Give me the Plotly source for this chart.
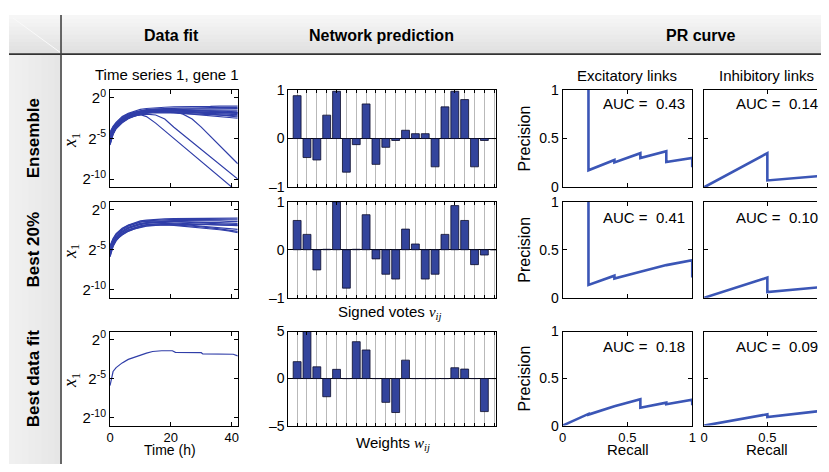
import plotly.graph_objects as go
import math

# The page draws the figure into an area inset by 8 px (body margin); map
# reference pixel positions onto that area.
OX, OY = 8.0, 8.0
FW, FH = 813.0, 456.0

# ---------------- data ----------------
TIME = [0, 1, 2, 3, 4, 6, 8, 10, 12, 15, 18, 21, 24, 27, 30, 33, 36, 39, 42]

# log2(x1) trajectories, ensemble
ENSEMBLE_LOG2 = [
    [-4.2, -3.5, -3.0, -2.6, -2.3, -1.9, -1.6, -1.4, -1.3, -1.2, -1.15, -1.1, -1.1, -1.1, -1.05, -1.05, -1.0, -1.0, -1.0],
    [-4.5, -3.7, -3.2, -2.8, -2.5, -2.1, -1.8, -1.6, -1.45, -1.35, -1.3, -1.3, -1.25, -1.25, -1.2, -1.2, -1.2, -1.2, -1.2],
    [-4.8, -3.9, -3.3, -2.9, -2.6, -2.2, -1.9, -1.7, -1.55, -1.45, -1.4, -1.4, -1.4, -1.35, -1.35, -1.35, -1.35, -1.3, -1.3],
    [-5.0, -4.0, -3.4, -3.0, -2.7, -2.3, -2.0, -1.8, -1.65, -1.55, -1.5, -1.5, -1.5, -1.5, -1.5, -1.5, -1.5, -1.5, -1.5],
    [-5.2, -4.2, -3.5, -3.1, -2.8, -2.35, -2.05, -1.85, -1.7, -1.6, -1.55, -1.55, -1.55, -1.6, -1.6, -1.6, -1.65, -1.65, -1.7],
    [-5.4, -4.3, -3.6, -3.2, -2.9, -2.4, -2.1, -1.9, -1.75, -1.65, -1.6, -1.6, -1.65, -1.7, -1.7, -1.75, -1.8, -1.8, -1.85],
    [-5.6, -4.4, -3.7, -3.3, -3.0, -2.5, -2.2, -2.0, -1.8, -1.7, -1.7, -1.7, -1.75, -1.8, -1.85, -1.9, -1.95, -2.0, -2.05],
    [-5.8, -4.5, -3.8, -3.4, -3.05, -2.55, -2.25, -2.05, -1.9, -1.8, -1.8, -1.85, -1.9, -1.95, -2.0, -2.05, -2.1, -2.15, -2.2],
    [-4.4, -3.6, -3.1, -2.7, -2.4, -2.0, -1.75, -1.6, -1.5, -1.45, -1.4, -1.45, -1.5, -1.55, -1.6, -1.65, -1.7, -1.75, -1.8],
    [-4.9, -3.9, -3.3, -2.95, -2.65, -2.25, -1.95, -1.75, -1.6, -1.5, -1.5, -1.55, -1.65, -1.75, -1.85, -1.95, -2.05, -2.2, -2.35],
    [-5.1, -4.1, -3.45, -3.05, -2.75, -2.3, -2.0, -1.8, -1.7, -1.65, -1.7, -1.8, -1.9, -2.0, -2.1, -2.2, -2.3, -2.4, -2.5],
    [-5.3, -4.2, -3.55, -3.15, -2.85, -2.4, -2.1, -1.9, -1.75, -1.7, -1.7, -1.75, -1.75, -1.8, -1.8, -1.8, -1.85, -1.85, -1.9],
    [-5.5, -4.3, -3.6, -3.2, -2.9, -2.45, -2.15, -2.05, -2.3, -3.1, -4.05, -5.0, -5.95, -6.9, -7.85, -8.8, -9.75, -10.7, -11.6],
    [-5.7, -4.4, -3.7, -3.3, -3.0, -2.5, -2.2, -2.05, -2.0, -2.1, -2.6, -3.6, -4.5, -5.4, -6.3, -7.25, -8.2, -9.1, -10.0],
    [-4.7, -3.8, -3.25, -2.85, -2.55, -2.15, -1.85, -1.7, -1.6, -1.55, -1.6, -1.7, -2.0, -2.6, -3.6, -4.7, -5.8, -6.9, -8.1],
]

# log2(x1) trajectories, best 20%
BEST20_LOG2 = [
    [-4.5, -3.6, -3.0, -2.6, -2.3, -1.9, -1.6, -1.4, -1.3, -1.2, -1.15, -1.1, -1.1, -1.05, -1.05, -1.05, -1.05, -1.05, -1.05],
    [-4.8, -3.8, -3.2, -2.8, -2.5, -2.05, -1.75, -1.55, -1.45, -1.4, -1.35, -1.35, -1.35, -1.35, -1.4, -1.4, -1.4, -1.45, -1.45],
    [-5.0, -4.0, -3.35, -2.95, -2.65, -2.2, -1.9, -1.7, -1.6, -1.5, -1.45, -1.45, -1.5, -1.5, -1.55, -1.6, -1.6, -1.65, -1.7],
    [-5.3, -4.2, -3.5, -3.1, -2.8, -2.35, -2.05, -1.85, -1.7, -1.6, -1.6, -1.65, -1.7, -1.75, -1.8, -1.85, -1.9, -1.95, -2.0],
    [-5.5, -4.35, -3.65, -3.25, -2.95, -2.5, -2.2, -2.0, -1.85, -1.75, -1.7, -1.75, -1.85, -1.95, -2.05, -2.15, -2.25, -2.35, -2.45],
    [-5.8, -4.5, -3.8, -3.4, -3.1, -2.65, -2.35, -2.15, -2.0, -1.9, -1.85, -1.9, -1.95, -2.05, -2.15, -2.25, -2.4, -2.55, -2.7],
    [-4.6, -3.7, -3.1, -2.7, -2.4, -1.95, -1.7, -1.5, -1.4, -1.3, -1.25, -1.2, -1.2, -1.2, -1.2, -1.2, -1.2, -1.25, -1.25],
    [-5.2, -4.1, -3.45, -3.05, -2.75, -2.3, -2.0, -1.8, -1.65, -1.55, -1.5, -1.5, -1.55, -1.6, -1.65, -1.7, -1.75, -1.8, -1.85],
    [-5.6, -4.4, -3.7, -3.3, -3.0, -2.55, -2.25, -2.05, -1.9, -1.8, -1.8, -1.8, -1.8, -1.85, -1.85, -1.85, -1.9, -1.9, -1.95],
    [-5.9, -4.6, -3.9, -3.45, -3.15, -2.7, -2.4, -2.2, -2.05, -1.95, -1.9, -1.95, -2.05, -2.15, -2.25, -2.4, -2.5, -2.65, -2.85],
]

# best data fit
BESTFIT_TIME = [0, 1, 2, 3, 4, 6, 8, 10, 12, 14, 17, 20.5, 21.5, 30, 30.5, 40.5, 42]
BESTFIT_LOG2 = [-5.9, -4.1, -3.6, -3.25, -3.0, -2.55, -2.25, -1.95, -1.75, -1.55, -1.45, -1.45, -1.65, -1.7, -1.85, -1.9, -2.1]

LINK_INDEX = list(range(1, 22))
VOTES_ENSEMBLE = [0.88, -0.39, -0.44, 0.48, 0.97, -0.69, -0.125, 0.71, -0.53, -0.18, -0.04,
                  0.17, 0.10, 0.10, -0.58, 0.65, 0.97, 0.80, -0.58, -0.04, 0.0]
VOTES_BEST20 = [0.61, 0.32, -0.42, 0.01, 1.0, -0.80, 0.01, 0.73, -0.19, -0.51, -0.61,
                0.43, 0.12, -0.61, -0.51, 0.32, 0.92, 0.61, -0.31, -0.11, 0.0]
WEIGHTS_BESTFIT = [1.8, 5.0, 1.25, -1.93, 0.98, 0.0, 3.92, 3.04, 0.0, -2.53, -3.61,
                   1.96, 0.0, 0.0, 0.0, 0.0, 1.15, 1.01, 0.0, -3.51, 0.0]

# PR curves (recall, precision)
EXC_RECALL = [
    [0.2, 0.2, 0.4, 0.4, 0.6, 0.6, 0.8, 0.8, 1.0, 1.0],
    [0.2, 0.2, 0.4, 0.4, 0.6, 0.8, 1.0, 1.0],
    [0.0, 0.2, 0.2, 0.4, 0.6, 0.6, 0.8, 0.8, 1.0, 1.0],
]
EXC_PRECISION = [
    [1.0, 0.175, 0.28, 0.255, 0.35, 0.30, 0.37, 0.26, 0.30, 0.205],
    [1.0, 0.134, 0.23, 0.20, 0.27, 0.34, 0.39, 0.21],
    [0.0, 0.124, 0.117, 0.205, 0.28, 0.19, 0.244, 0.227, 0.275, 0.216],
]
INH_RECALL = [
    [0.0, 0.5, 0.5, 1.0],
    [0.0, 0.5, 0.5, 1.0],
    [0.0, 0.5, 0.5, 1.0],
]
INH_PRECISION = [
    [0.0, 0.35, 0.07, 0.125],
    [0.0, 0.21, 0.06, 0.12],
    [0.0, 0.12, 0.09, 0.168],
]
AUC_EXC = ["0.43", "0.41", "0.18"]
AUC_INH = ["0.14", "0.10", "0.09"]

ROW_LABELS = ["Ensemble", "Best 20%", "Best data fit"]
COL_TITLES = ["Data fit", "Network prediction", "PR curve"]

# ---------------- layout helpers (reference pixel positions) ----------------
ROWS_Y = [(84.5, 185.5), (200.5, 300.0), (335.0, 432.5)]
COLS_X = [(107, 236), (287, 497), (564, 695), (707, 821)]
INH_X_MAX = (821 - 707) / (834.7 - 707)   # recall shown before the window edge


def px(x):
    return (x - OX) / FW


def py(y):
    return 1 - (y - OY) / FH


FONT = "Arial, Liberation Sans, sans-serif"
SERIF = "Liberation Serif, Times New Roman, serif"
LINE_BLUE = "rgb(48,62,168)"
BAR_BLUE = "#33449c"
PR_BLUE = "#3b56b6"

fig = go.Figure()
layout = {}


def ax_name(idx, letter):
    return letter if idx == 1 else f"{letter}{idx}"


def axis_base():
    return dict(showline=True, linecolor="black", linewidth=1, ticks="inside", ticklen=4,
                tickcolor="black", tickwidth=1, showgrid=False, zeroline=False,
                tickfont=dict(family=FONT, size=14, color="black"), fixedrange=True)


for r in range(3):
    for c in range(4):
        idx = r * 4 + c + 1
        xa = axis_base()
        ya = axis_base()
        x0, x1 = COLS_X[c]
        ytop, ybot = ROWS_Y[r]
        xa["domain"] = [max(0, px(x0)), min(1, px(x1))]
        ya["domain"] = [max(0, py(ybot)), min(1, py(ytop))]
        xa["anchor"] = ax_name(idx, "y")
        ya["anchor"] = ax_name(idx, "x")
        xa["mirror"] = "ticks"
        ya["mirror"] = "ticks"
        if r == 2:
            xa["tickfont"] = dict(family=FONT, size=13, color="black")
        if c == 0:
            xa.update(range=[0, 42], tickvals=[0, 20, 40], ticktext=["0", "20", "40"],
                      showticklabels=(r == 2))
            ya.update(type="log", range=[-11 * math.log10(2), 1 * math.log10(2)],
                      tickvals=[1, 2 ** -5, 2 ** -10],
                      ticktext=["2<sup>0</sup>", "2<sup>-5</sup>", "2<sup>-10</sup>"],
                      tickfont=dict(family=FONT, size=15, color="black"))
        elif c == 1:
            lim = 5 if r == 2 else 1
            xa.update(range=[0.1, 21.2], tickvals=LINK_INDEX, showticklabels=False,
                      showgrid=True, gridcolor="#b9b9b9", gridwidth=1, ticklen=3)
            ya.update(range=[-lim, lim], tickvals=[-lim, 0, lim],
                      ticktext=["\u2013" + str(lim), "0", str(lim)],
                      zeroline=True, zerolinecolor="black", zerolinewidth=1)
        else:
            if c == 2:
                xa.update(range=[0, 1])
            else:
                xa.update(range=[0, INH_X_MAX])
                ya["mirror"] = False
            xa.update(tickvals=[0, 0.5, 1], ticktext=["0", "0.5", "1"], showticklabels=(r == 2))
            ya.update(range=[0, 1], tickvals=[0, 0.5, 1], ticktext=["0", "0.5", "1"],
                      showticklabels=(c == 2))
        layout[ax_name(idx, "xaxis")] = xa
        layout[ax_name(idx, "yaxis")] = ya

# ---------------- traces ----------------
fit_sets = [ENSEMBLE_LOG2, BEST20_LOG2]
for r, curves in enumerate(fit_sets):
    idx = r * 4 + 1
    for cv in curves:
        fig.add_trace(go.Scatter(x=TIME, y=[2 ** v for v in cv], mode="lines",
                                 line=dict(color=LINE_BLUE, width=1.2),
                                 xaxis=ax_name(idx, "x"), yaxis=ax_name(idx, "y"),
                                 showlegend=False, hoverinfo="skip"))
fig.add_trace(go.Scatter(x=BESTFIT_TIME, y=[2 ** v for v in BESTFIT_LOG2], mode="lines",
                         line=dict(color=LINE_BLUE, width=1.2),
                         xaxis="x9", yaxis="y9", showlegend=False, hoverinfo="skip"))

for r, vals in enumerate([VOTES_ENSEMBLE, VOTES_BEST20, WEIGHTS_BESTFIT]):
    idx = r * 4 + 2
    fig.add_trace(go.Bar(x=LINK_INDEX, y=vals, width=0.8,
                         marker=dict(color=BAR_BLUE, line=dict(color="#0d0d2a", width=0.8)),
                         xaxis=ax_name(idx, "x"), yaxis=ax_name(idx, "y"),
                         showlegend=False, hoverinfo="skip"))

for r in range(3):
    idx = r * 4 + 3
    fig.add_trace(go.Scatter(x=EXC_RECALL[r], y=EXC_PRECISION[r], mode="lines",
                             line=dict(color=PR_BLUE, width=2.6),
                             xaxis=ax_name(idx, "x"), yaxis=ax_name(idx, "y"),
                             showlegend=False, hoverinfo="skip"))
    idx = r * 4 + 4
    fig.add_trace(go.Scatter(x=INH_RECALL[r], y=INH_PRECISION[r], mode="lines",
                             line=dict(color=PR_BLUE, width=2.6),
                             xaxis=ax_name(idx, "x"), yaxis=ax_name(idx, "y"),
                             showlegend=False, hoverinfo="skip"))

# ---------------- annotations ----------------
ann = []


def text(x, y, s, size=15, angle=0, xanchor="center", family=FONT, bold=False):
    if bold:
        s = "<b>" + s + "</b>"
    ann.append(dict(x=px(x), y=py(y), xref="paper", yref="paper", text=s, showarrow=False,
                    xanchor=xanchor, yanchor="middle", textangle=angle, borderpad=0,
                    font=dict(family=family, size=size, color="black")))


text(169, 28, COL_TITLES[0], size=16, bold=True)
text(381, 28, COL_TITLES[1], size=16, bold=True)
text(703, 28, COL_TITLES[2], size=16, bold=True)

row_centers = [(a + b) / 2 for a, b in ROWS_Y]
for lab, yc in zip(ROW_LABELS, row_centers):
    text(30, yc, lab, size=17, angle=-90, bold=True)
    text(68, yc + 2, "<i>x</i><sub>1</sub>", size=18, angle=-90, family=SERIF)
    text(526, yc, "Precision", size=16, angle=-90)

text(165, 69, "Time series 1, gene 1", size=15)
text(629, 70, "Excitatory links", size=15)
text(770, 70, "Inhibitory links", size=15)

text(389, 315, "Signed votes <span style='font-family:Liberation Serif'><i>v<sub>ij</sub></i></span>", size=15)
text(393, 451, "Weights <span style='font-family:Liberation Serif'><i>w<sub>ij</sub></i></span>", size=15)
text(168, 457.5, "Time (h)", size=14)
text(630, 457.5, "Recall", size=15)
text(771, 457.5, "Recall", size=15)

auc_y = [99, 217, 351]
for r in range(3):
    text(604, auc_y[r], "AUC =\u00a0 " + AUC_EXC[r], size=15, xanchor="left")
    text(738, auc_y[r], "AUC =\u00a0 " + AUC_INH[r], size=15, xanchor="left")

# ---------------- decorative header/side band ----------------
shapes = []


def rect(x0, y0, x1, y1, color):
    shapes.append(dict(type="rect", xref="paper", yref="paper", x0=px(x0), x1=px(x1),
                       y0=py(y1), y1=py(y0), fillcolor=color, line=dict(width=0), layer="below"))


n = 10
for i in range(n):
    g0 = 246 - int(22 * i / (n - 1))
    rect(5, 7 + i * 4, 835, 7 + (i + 1) * 4 + 0.5, f"rgb({g0},{g0},{g0})")
m = 8
for i in range(m):
    g0 = 240 - int(10 * i / (m - 1))
    rect(5 + i * 6.5, 47, 5 + (i + 1) * 6.5 + 0.5, 480, f"rgb({g0},{g0},{g0})")

shapes.append(dict(type="line", xref="paper", yref="paper", x0=px(9), y0=py(10), x1=px(57), y1=py(46),
                   line=dict(color="rgb(250,250,250)", width=1), layer="above"))
shapes.append(dict(type="line", xref="paper", yref="paper", x0=px(5), y0=py(47.5), x1=px(835), y1=py(47.5),
                   line=dict(color="#333333", width=1.6), layer="above"))
shapes.append(dict(type="line", xref="paper", yref="paper", x0=px(57.5), y0=py(7), x1=px(57.5), y1=py(480),
                   line=dict(color="#444444", width=1.6), layer="above"))

fig.update_layout(
    margin=dict(l=0, r=0, t=0, b=0),
    paper_bgcolor="white", plot_bgcolor="white",
    showlegend=False, bargap=0, annotations=ann, shapes=shapes,
    font=dict(family=FONT, size=14, color="black"),
    **layout,
)

fig.write_html("out.html", config={"displayModeBar": False, "staticPlot": True})
